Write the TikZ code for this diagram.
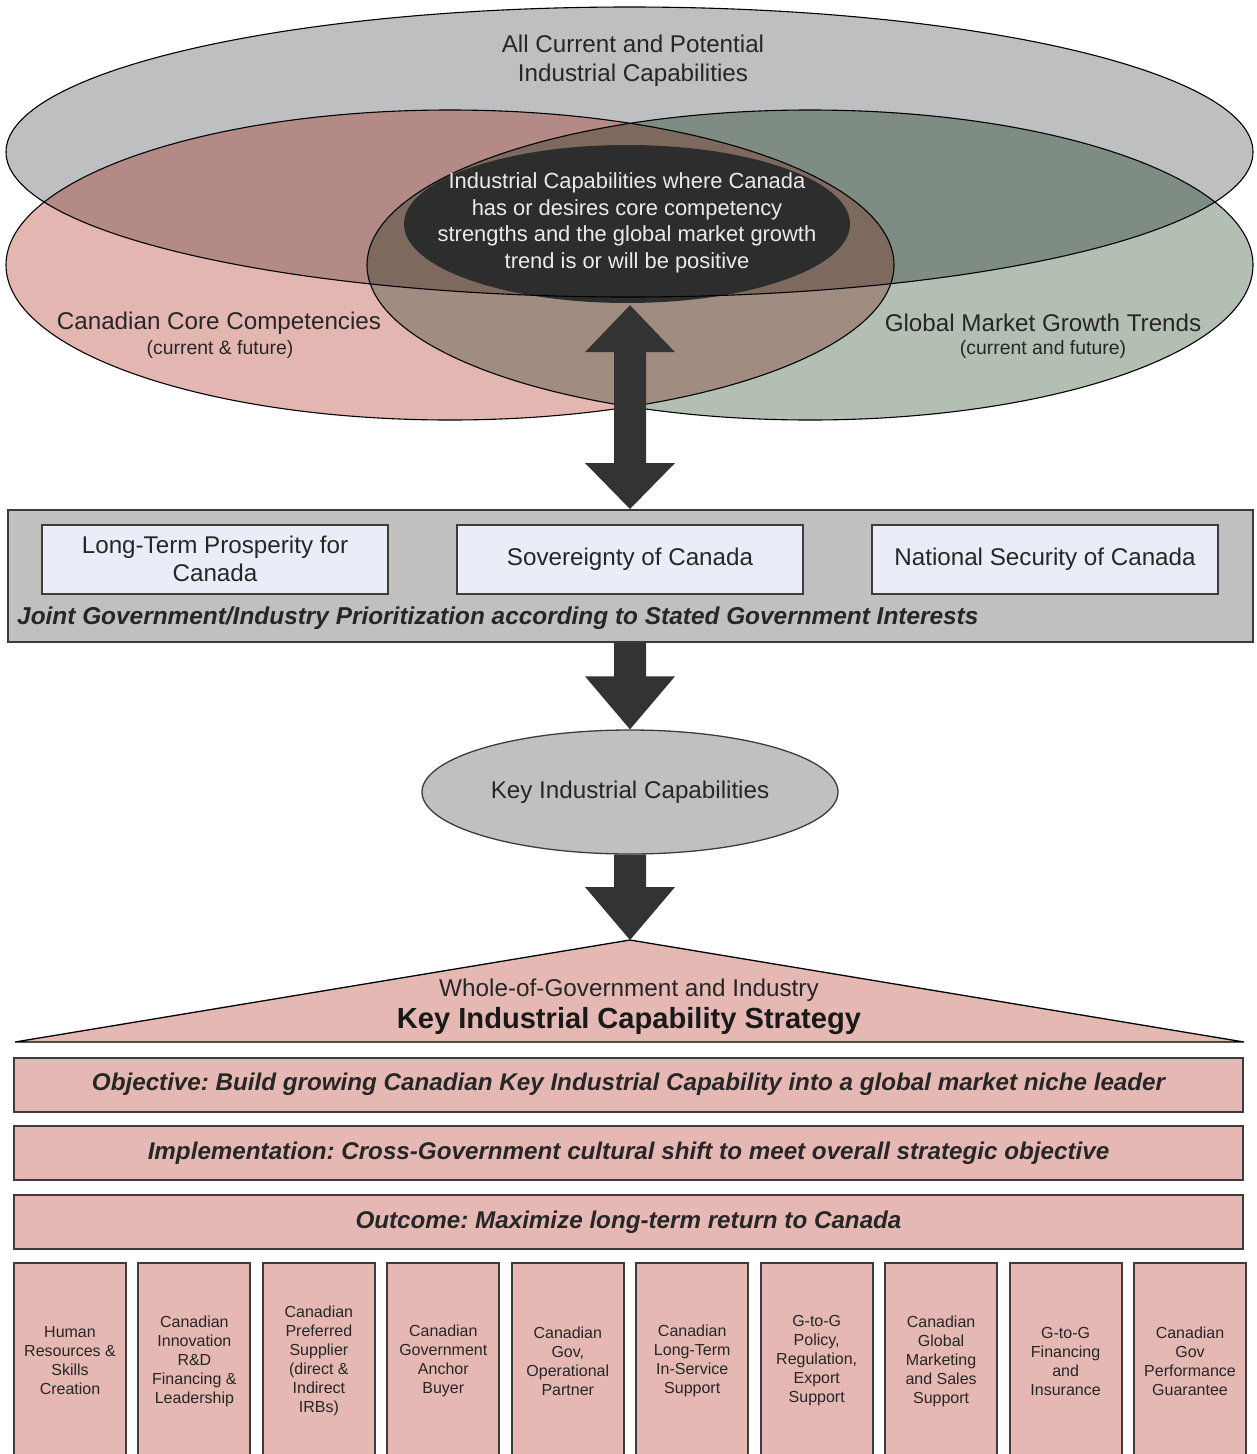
\documentclass[tikz,border=0pt]{standalone}
\usepackage{fontspec}
\setmainfont{Liberation Sans}
\usetikzlibrary{calc,shapes.geometric}
\frenchspacing
\definecolor{cGrey}{HTML}{BEBFC1}
\definecolor{cPink}{HTML}{E4B6B2}
\definecolor{cGreen}{HTML}{B4BFB4}
\definecolor{cPinkGrey}{HTML}{B48A87}
\definecolor{cGreenGrey}{HTML}{7E8C84}
\definecolor{cPinkGreen}{HTML}{A08C80}
\definecolor{cAll}{HTML}{7D695E}
\definecolor{cDark}{HTML}{2D2D2D}
\definecolor{cArrow}{HTML}{333333}
\definecolor{cBox}{HTML}{C0C0C0}
\definecolor{cInner}{HTML}{E9EDF7}
\definecolor{cRose}{HTML}{E5B8B4}
\definecolor{cTxt}{HTML}{262626}
\definecolor{cEdge}{HTML}{3C3C3C}
\tikzset{
  greyE/.style={insert path={(629.5,152) ellipse [x radius=623.5, y radius=145]}},
  pinkE/.style={insert path={(450,265) ellipse [x radius=444, y radius=155]}},
  greenE/.style={insert path={(810,265) ellipse [x radius=443, y radius=155]}},
  outl/.style={draw=black, line width=1.1pt},
  lbl/.style={font=\fontsize{24.2}{29}\selectfont, text=cTxt, align=center, inner sep=0},
  sublbl/.style={font=\fontsize{19.4}{22}\selectfont, text=cTxt, align=center, inner sep=0},
  corelbl/.style={font=\fontsize{21.9}{26.5}\selectfont, text=white!92!black, align=center, inner sep=0},
  innerbox/.style={rectangle, draw=cEdge, line width=2pt, fill=cInner, minimum width=346, minimum height=69, inner sep=0, align=center, font=\fontsize{24.2}{28}\selectfont, text=cTxt},
  barbox/.style={rectangle, draw=cEdge, line width=2pt, fill=cRose, minimum width=1229, minimum height=54, inner sep=0, font=\fontsize{24.2}{28}\selectfont\bfseries\itshape, text=cTxt},
  colbox/.style={rectangle, draw=cEdge, line width=2pt, fill=cRose, minimum width=112, minimum height=196, inner sep=0, align=center, font=\fontsize{16}{19}\selectfont, text=cTxt},
  arrowc/.style={fill=cArrow},
}
\newcommand{\blkdown}[2]{%
  \fill[arrowc] let \p1=(#1), \p2=(#2) in
  (\x2-16pt,\y1) -- (\x2+16pt,\y1) -- (\x2+16pt,\y2+53pt) -- (\x2+45pt,\y2+53pt)
  -- (\x2,\y2) -- (\x2-45pt,\y2+53pt) -- (\x2-16pt,\y2+53pt) -- cycle;}
\newcommand{\blkdouble}[2]{%
  \fill[arrowc] let \p1=(#1), \p2=(#2) in
  (\x2,\y1) -- (\x2+45pt,\y1-47pt) -- (\x2+16pt,\y1-47pt) -- (\x2+16pt,\y2+46pt)
  -- (\x2+45pt,\y2+46pt) -- (\x2,\y2) -- (\x2-45pt,\y2+46pt) -- (\x2-16pt,\y2+46pt)
  -- (\x2-16pt,\y1-47pt) -- (\x2-45pt,\y1-47pt) -- cycle;}
\begin{document}
\begin{tikzpicture}[x=1pt,y=-1pt]
\useasboundingbox (0,0) rectangle (1257,1454);
\fill[white] (0,0) rectangle (1257,1454);
\begin{scope}
\clip (0,0) rectangle (1257,1454);
% ---- Venn ellipses ----
\fill[cGrey, greyE];
\fill[cPink, pinkE];
\fill[cGreen, greenE];
\begin{scope}\clip[pinkE]; \fill[cPinkGrey, greyE];\end{scope}
\begin{scope}\clip[greenE]; \fill[cGreenGrey, greyE];\end{scope}
\begin{scope}\clip[pinkE]; \fill[cPinkGreen, greenE];\end{scope}
\begin{scope}\clip[pinkE]; \clip[greenE]; \fill[cAll, greyE];\end{scope}
\node[ellipse, fill=cDark, minimum width=446, minimum height=158, inner sep=0] (core) at (627,224) {};
\draw[outl, greyE];
\draw[outl, pinkE];
\draw[outl, greenE];
\node[corelbl] (coretxt) at (627,223) {Industrial Capabilities where Canada\\has or desires core competency\\strengths and the global market growth\\trend is or will be positive};
\node[lbl] (allcap) at (633,61) {All Current and Potential\\Industrial Capabilities};
\node[lbl] (ccc) at (219,323) {Canadian Core Competencies};
\node[sublbl] (ccc2) at (220,349) {(current \& future)};
\node[lbl] (gmg) at (1043,323) {Global Market Growth Trends};
\node[sublbl] (gmg2) at (1043,349) {(current and future)};
% ---- prioritization box ----
\node[rectangle, draw=cEdge, line width=2pt, fill=cBox, minimum width=1245, minimum height=132, inner sep=0] (grp) at (630,576) {};
\node[innerbox] (ltp) at (215,559) {Long-Term Prosperity for\\Canada};
\node[innerbox] (sov) at (630,559) {Sovereignty of Canada};
\node[innerbox] (nsc) at (1045,559) {National Security of Canada};
\node[anchor=west, inner sep=0, font=\fontsize{24.4}{28}\selectfont\bfseries\itshape, text=cTxt] (joint) at (17,618) {Joint Government/Industry Prioritization according to Stated Government Interests};
% ---- key capabilities ----
\node[ellipse, draw=cEdge, line width=1.3pt, fill=cBox, minimum width=416, minimum height=124, inner sep=0, font=\fontsize{24.2}{28}\selectfont, text=cTxt] (kic) at (630,792) {Key Industrial Capabilities};
% ---- strategy triangle ----
\coordinate (apex) at (630,940);
\filldraw[fill=cRose, draw=black, line width=1.3pt] (apex) -- (1244,1042) -- (15,1042) -- cycle;
\node[font=\fontsize{24.3}{29}\selectfont, text=cTxt, inner sep=0] (wog) at (629,990) {Whole-of-Government and Industry};
\node[inner sep=0, font=\fontsize{29.1}{33}\selectfont\bfseries, text=black!90] (kics) at (629,1021) {Key Industrial Capability Strategy};
% ---- bars ----
\node[barbox] (obj) at (628.5,1084.5) {Objective: Build growing Canadian Key Industrial Capability into a global market niche leader};
\node[barbox] (impl) at (628.5,1153) {Implementation: Cross-Government cultural shift to meet overall strategic objective};
\node[barbox] (outc) at (628.5,1222) {Outcome: Maximize long-term return to Canada};
% ---- columns ----
\node[colbox] (c1) at (70,1361) {Human\\Resources \&\\Skills\\Creation};
\node[colbox] (c2) at (194.4,1361) {Canadian\\Innovation\\R\&D\\Financing \&\\Leadership};
\node[colbox] (c3) at (318.9,1361) {Canadian\\Preferred\\Supplier\\(direct \&\\Indirect\\IRBs)};
\node[colbox] (c4) at (443.3,1361) {Canadian\\Government\\Anchor\\Buyer};
\node[colbox] (c5) at (567.8,1361) {Canadian\\Gov,\\Operational\\Partner};
\node[colbox] (c6) at (692.2,1361) {Canadian\\Long-Term\\In-Service\\Support};
\node[colbox] (c7) at (816.7,1361) {G-to-G\\Policy,\\Regulation,\\Export\\Support};
\node[colbox] (c8) at (941.1,1361) {Canadian\\Global\\Marketing\\and Sales\\Support};
\node[colbox] (c9) at (1065.6,1361) {G-to-G\\Financing\\and\\Insurance};
\node[colbox] (c10) at (1190,1361) {Canadian\\Gov\\Performance\\Guarantee};
% ---- block arrows ----
\coordinate (dtop) at ($(core.south)+(0,2)$);
\blkdouble{dtop}{grp.north}
\blkdown{grp.south}{kic.north}
\blkdown{kic.south}{apex}
\end{scope}
\end{tikzpicture}
\end{document}
